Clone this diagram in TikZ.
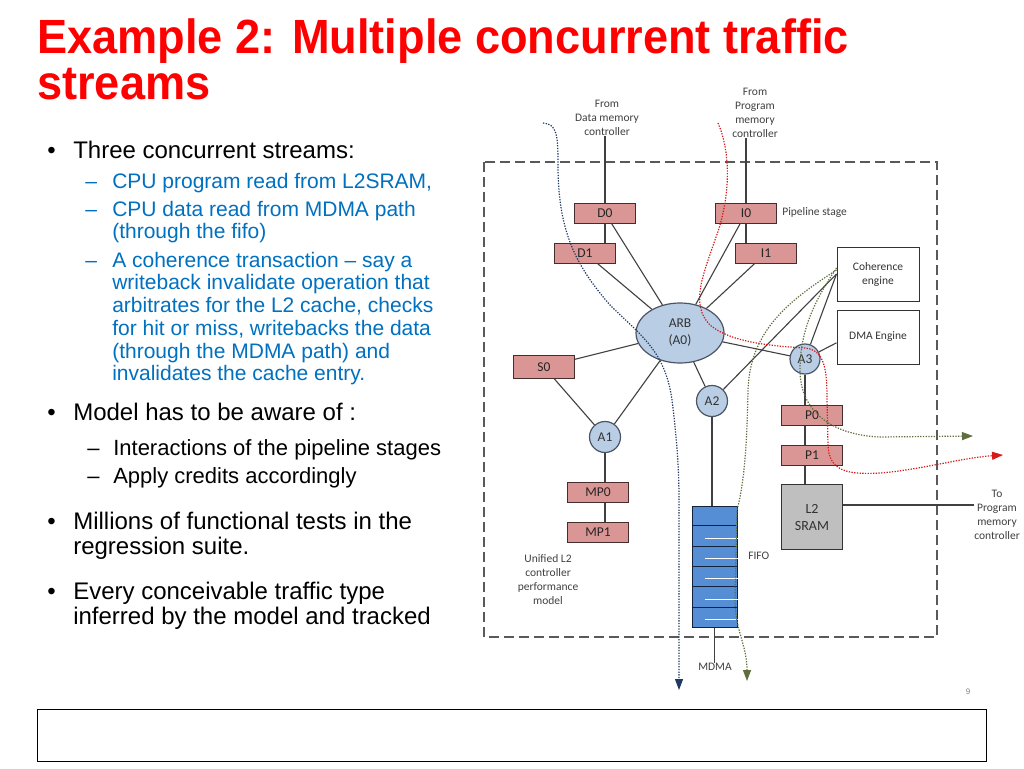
\documentclass[tikz,border=0pt]{standalone}
\usepackage{fontspec}
\setmainfont{Liberation Sans}
\newfontfamily\titlefont[FakeStretch=0.94]{Liberation Sans}
\newfontfamily\diagfont{Carlito}
\usepackage{xcolor}
\usetikzlibrary{arrows.meta,shapes,positioning,calc}

\definecolor{titlered}{RGB}{255,0,0}
\definecolor{itemblue}{RGB}{0,112,192}
\definecolor{stagefill}{RGB}{217,150,148}
\definecolor{stageline}{RGB}{70,45,45}
\definecolor{arbfill}{RGB}{185,205,229}
\definecolor{arbline}{RGB}{75,85,100}
\definecolor{fifofill}{RGB}{85,142,213}
\definecolor{fifoline}{RGB}{20,35,60}
\definecolor{sramfill}{RGB}{191,191,191}
\definecolor{navyflow}{RGB}{31,56,100}
\definecolor{greenflow}{RGB}{95,110,60}
\definecolor{redflow}{RGB}{215,25,25}

\begin{document}
\begin{tikzpicture}[x=1pt, y=-1pt, >={Triangle[length=11pt,width=8pt]}, semithick, node distance=40pt,
    stage/.style={rectangle, draw=stageline, fill=stagefill, line width=1pt, minimum width=61pt, minimum height=20pt, inner sep=0pt, text=black!85, font=\diagfont\fontsize{13.5}{13.5}\selectfont},
    arbiter/.style={circle, draw=arbline, fill=arbfill, line width=1.2pt, minimum size=31pt, inner sep=0pt, text=black!80, font=\diagfont\fontsize{13.5}{13.5}\selectfont},
    engine/.style={rectangle, draw=black!80, fill=white, line width=1pt, minimum width=82pt, minimum height=54pt, align=center, text=black!80, font=\diagfont\fontsize{11.5}{14}\selectfont},
    note/.style={align=center, inner sep=0pt, text=black!75, font=\diagfont\fontsize{11.5}{14}\selectfont},
    link/.style={draw=black!75, line width=1.1pt},
    flow/.style={line width=1.2pt, dash pattern=on 1.3pt off 1.4pt},
    headline/.style={anchor=base west, inner sep=0pt, text=titlered, font=\titlefont\bfseries\fontsize{48}{48}\selectfont},
    lvlone/.style={anchor=base west, inner sep=0pt, font=\fontsize{24}{24}\selectfont},
    lvltwo/.style={anchor=base west, inner sep=0pt, text=itemblue, font=\fontsize{21}{21}\selectfont},
    lvlsub/.style={anchor=base west, inner sep=0pt, font=\fontsize{22}{22}\selectfont}]

\fill[white] (0,0) rectangle (1024,768);
\useasboundingbox (0,0) rectangle (1024,768);

% title
\node [headline] (title) at (37,53) {Example 2: Multiple concurrent traffic};
\node [headline] (title2) at (37,99) {streams};

% bullet text
\node [lvlone] (b1) at (47,158) {•};
\node [lvlone] (t1) at (73,158) {Three concurrent streams:};
\foreach \y in {188,216,267}
  \node [lvltwo] (d\y) at (85,\y) {–};
\node [lvltwo] (s1) at (112,188) {CPU program read from L2SRAM,};
\node [lvltwo] (s2) at (112,216) {CPU data read from MDMA path};
\node [lvltwo] (s3) at (112,238) {(through the fifo)};
\node [lvltwo] (s4) at (112,267) {A coherence transaction – say a};
\node [lvltwo] (s5) at (112,289) {writeback invalidate operation that};
\node [lvltwo] (s6) at (112,312) {arbitrates for the L2 cache, checks};
\node [lvltwo] (s7) at (112,335) {for hit or miss, writebacks the data};
\node [lvltwo] (s8) at (112,358) {(through the MDMA path) and};
\node [lvltwo] (s9) at (112,380) {invalidates the cache entry.};

\node [lvlone] (b2) at (47,420) {•};
\node [lvlone] (t2) at (73,420) {Model has to be aware of :};
\node [lvlsub] (e1) at (87,455) {–};
\node [lvlsub] (e2) at (87,483) {–};
\node [lvlsub] (u1) at (113,455) {Interactions of the pipeline stages};
\node [lvlsub] (u2) at (113,483) {Apply credits accordingly};

\node [lvlone] (b3) at (47,529) {•};
\node [lvlone] (t3) at (73,529) {Millions of functional tests in the};
\node [lvlone] (t4) at (73,554) {regression suite.};
\node [lvlone] (b4) at (47,599) {•};
\node [lvlone] (t5) at (73,599) {Every conceivable traffic type};
\node [lvlone] (t6) at (73,624) {inferred by the model and tracked};

% footer
\draw [black, line width=1pt] (37,709) rectangle (986,761);
\node [text=black!50, font=\fontsize{8}{8}\selectfont] (pgno) at (968,692) {9};

% model boundary
\draw [black!65, line width=1.4pt, dash pattern=on 10pt off 5pt] (484,162) rectangle (937,637);

% labels
\node [note] (fromD) at (607,118) {From\\Data memory\\controller};
\node [note] (fromP) at (755,113) {From\\Program\\memory\\controller};
\node [note] (toP) at (997,515) {To\\Program\\memory\\controller};
\node [note] (model) at (548,580) {Unified L2\\controller\\performance\\model};

% pipeline stages
\node [stage] (D0) at (605,213) {D0};
\node [stage] (D1) [below of=D0, xshift=-20] {D1};
\node [stage] (I0) at (746,213) {I0};
\node [stage] (I1) [below of=I0, xshift=20] {I1};
\node [note, anchor=west] (pipe) at (782,212) {Pipeline stage};
\node [stage, minimum height=23pt] (S0) at (544,367) {S0};
\node [stage] (P0) at (812,415) {P0};
\node [stage] (P1) [below of=P0] {P1};
\node [stage] (MP0) at (598,492) {MP0};
\node [stage] (MP1) [below of=MP0] {MP1};

% arbiters
\node [arbiter, ellipse, minimum width=88pt, minimum height=60pt, align=center, font=\diagfont\fontsize{13.5}{17}\selectfont] (ARB) at (680,333) {ARB\\(A0)};
\node [arbiter] (A1) at (605,437) {A1};
\node [arbiter] (A2) at (712,401) {A2};
\node [arbiter, minimum size=30pt] (A3) at (805,359) {A3};

% engines and memories
\node [engine] (coh) at (878,274) {Coherence\\engine};
\node [engine] (dma) at (878,337) {DMA Engine};
\node [engine, fill=sramfill, minimum width=61pt, minimum height=65pt, font=\diagfont\fontsize{14}{17}\selectfont] (sram) at (812,517) {L2\\SRAM};
\node [rectangle, draw=fifoline, fill=fifofill, line width=1pt, minimum width=45pt, minimum height=121pt, inner sep=0pt] (fifo) at (714.5,566.5) {};
\foreach \k in {1,...,5} {
  \draw [white, line width=1pt] ($(fifo.north west)!{(\k+0.6)/6}!(fifo.south west)$) ++(13,0) -- ($(fifo.north east)!{(\k+0.6)/6}!(fifo.south east)$);
  \draw [fifoline, line width=1pt] ($(fifo.north west)!{\k/6}!(fifo.south west)$) -- ($(fifo.north east)!{\k/6}!(fifo.south east)$);
}
\node [note, anchor=west] (fifolbl) at (748,556) {FIFO};
\node [note] (mdma) at (715,667) {MDMA};

% connections
\draw [link] (D0.south) -- (D0.south |- D1.north);
\draw [link] (I0.south) -- (I0.south |- I1.north);
\draw [link] (D0.north) -- (D0.north |- fromD.south);
\draw [link] (I0.north) -- (I0.north |- fromP.south);
\draw [link] (A3.south) -- (A3.south |- P0.north);
\draw [link] (A3.south |- P0.south) -- (A3.south |- P1.north);
\draw [link] (A3.south |- P1.south) -- (A3.south |- sram.north);
\draw [link] (A1.south) -- (A1.south |- MP0.north);
\draw [link] (A1.south |- MP0.south) -- (A1.south |- MP1.north);
\draw [link] (A2.south) -- (A2.south |- fifo.north);
\draw [link] (fifo.south) -- (fifo.south |- mdma.north);
\draw [link] ([yshift=12pt]sram.east) -- ([yshift=12pt]sram.east -| toP.west);
\path [link] (D0) edge (ARB)
      (D1) edge (ARB)
      (I0) edge (ARB)
      (I1) edge (ARB)
      (S0) edge (ARB)
      (S0) edge (A1)
      (ARB) edge (A1)
      (ARB) edge (A2)
      (ARB) edge (A3)
      (A2) edge (coh.west)
      (A3) edge (coh.west)
      (A3) edge (dma.188);

% traffic streams
\coordinate (navyin) at (543,123);
\coordinate (navyout) at (679,690);
\coordinate (redin) at (718,123);
\coordinate (redout) at (1003,455);
\coordinate (greenout) at (973,436);
\coordinate (mdmaout) at (747,681);

\draw [flow, navyflow, ->] (navyin) .. controls (557,124) and (558,135) .. (558,165)
  .. controls (558,230) and (575,265) .. (610,305)
  .. controls (640,335) and (665,350) .. (672,400)
  .. controls (677,440) and (679,470) .. (679,500) -- (navyout);
\draw [flow, redflow, ->] (redin) .. controls (730,150) and (732,195) .. (715,240)
  .. controls (703,275) and (690,305) .. (710,325)
  .. controls (730,342) and (770,346) .. (805,348)
  .. controls (825,350) and (827,370) .. (827,400) -- (828,445)
  .. controls (829,470) and (845,475) .. (880,473)
  .. controls (920,470) and (960,458) .. (redout);
\draw [flow, greenflow, ->] ([yshift=6pt]coh.west) .. controls (815,300) and (800,330) .. (800,370)
  .. controls (800,410) and (830,435) .. (880,437) -- (greenout);
\draw [flow, greenflow, ->] ([yshift=4pt]coh.west) .. controls (790,300) and (750,330) .. (748,390)
  .. controls (747,440) and (745,480) .. (737,510) -- (735,600)
  .. controls (735,630) and (747,645) .. (mdmaout);

\end{tikzpicture}
\end{document}
